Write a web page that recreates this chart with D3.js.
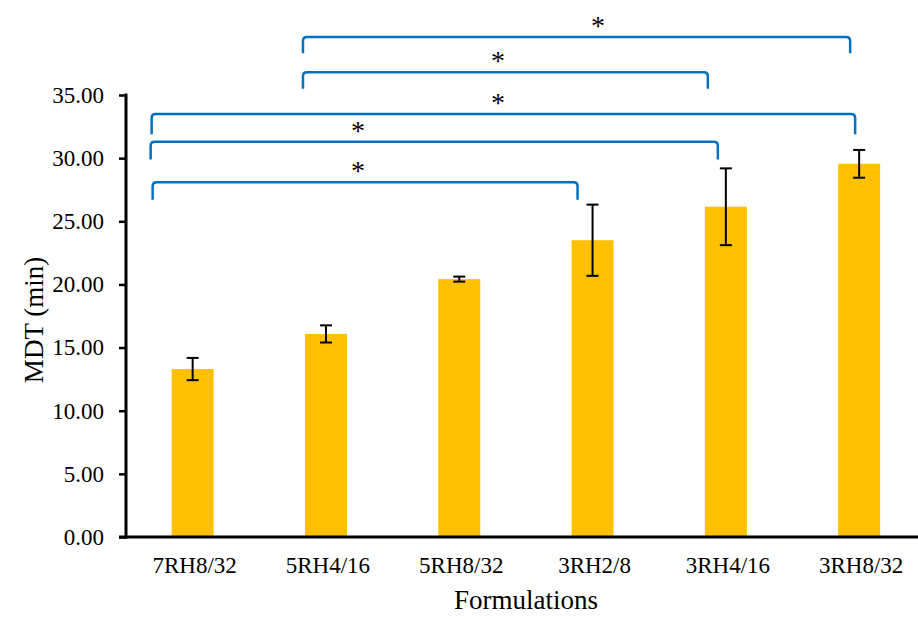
<!DOCTYPE html>
<html>
<head>
<meta charset="utf-8">
<script src="https://cdn.jsdelivr.net/npm/d3@7"></script>
<style>
  html, body { margin: 0; padding: 0; background: #fff; }
  svg { display: block; }
</style>
</head>
<body>
<svg id="chart" width="918" height="619"></svg>
<script>
// Mean dissolution time per formulation, with standard deviation
const categories = ["7RH8/32", "5RH4/16", "5RH8/32", "3RH2/8", "3RH4/16", "3RH8/32"];
const mdtMean = [13.30, 16.08, 20.42, 23.50, 26.15, 29.55];
const mdtSd   = [0.88, 0.68, 0.20, 2.82, 3.04, 1.10];
const yTicks  = [0, 5, 10, 15, 20, 25, 30, 35];

// Significance brackets: compared pair (category indices), bracket height and leg end (min)
const sigFrom  = [0, 0, 0, 1, 1];
const sigTo    = [3, 4, 5, 4, 5];
const sigLevel = [28.1, 31.3, 33.5, 36.8, 39.6];
const sigLegTo = [26.7, 29.9, 31.9, 35.5, 38.3];
const sigLabel = ["*", "*", "*", "*", "*"];

// Drawing layout
const FONT = "'Liberation Serif', 'Times New Roman', Times, serif";
const layout = {
  left: 126, bottom: 537, top: 95, bandStep: 133.3,
  barWidth: 42, capWidth: 12,
  legOffsetL: [-40, -42, -41, -23, -23],
  legOffsetR: [-15, -8, -4, -18, -9],
  starAt: [1.24, 1.24, 2.29, 2.29, 3.04]
};

const svg = d3.select("#chart");

const x = d3.scaleBand()
  .domain(categories)
  .range([layout.left, layout.left + layout.bandStep * categories.length])
  .paddingInner(0).paddingOuter(0);

const y = d3.scaleLinear().domain([0, 35]).range([layout.bottom, layout.top]);

const cx = c => x(c) + x.bandwidth() / 2;
const cxi = i => layout.left + layout.bandStep * (i + 0.5);

// Bars
svg.append("g").selectAll("rect")
  .data(categories)
  .join("rect")
  .attr("x", c => cx(c) - layout.barWidth / 2)
  .attr("width", layout.barWidth)
  .attr("y", (c, i) => y(mdtMean[i]))
  .attr("height", (c, i) => y(0) - y(mdtMean[i]))
  .attr("fill", "#FFC000");

// Error bars
const eg = svg.append("g").attr("stroke", "#000").attr("stroke-width", 2);
categories.forEach((c, i) => {
  const hi = y(mdtMean[i] + mdtSd[i]);
  const lo = y(mdtMean[i] - mdtSd[i]);
  const xc = cx(c);
  eg.append("line").attr("x1", xc).attr("x2", xc).attr("y1", hi).attr("y2", lo);
  eg.append("line").attr("x1", xc - layout.capWidth / 2).attr("x2", xc + layout.capWidth / 2).attr("y1", hi).attr("y2", hi);
  eg.append("line").attr("x1", xc - layout.capWidth / 2).attr("x2", xc + layout.capWidth / 2).attr("y1", lo).attr("y2", lo);
});

// Y axis
const yAxis = d3.axisLeft(y)
  .tickValues(yTicks)
  .tickFormat(d3.format(".2f"))
  .tickSize(7)
  .tickPadding(15);
const ya = svg.append("g").attr("transform", `translate(${layout.left},0)`).call(yAxis)
  .attr("font-family", FONT).attr("font-size", 23);
ya.select(".domain").remove();
ya.selectAll(".tick line").attr("stroke", "#000").attr("stroke-width", 2.5);
ya.selectAll(".tick text").attr("fill", "#000");
svg.append("line")
  .attr("x1", layout.left).attr("x2", layout.left)
  .attr("y1", y(35) - 1.5).attr("y2", y(0) + 1.5)
  .attr("stroke", "#000").attr("stroke-width", 3);

// X axis
const xAxis = d3.axisBottom(x).tickSize(0).tickPadding(20);
const xa = svg.append("g").attr("transform", `translate(0,${layout.bottom})`).call(xAxis)
  .attr("font-family", FONT).attr("font-size", 23);
xa.select(".domain").remove();
xa.selectAll(".tick text").attr("fill", "#000").attr("dx", 2);
svg.append("line")
  .attr("x1", layout.left - 7).attr("x2", 918)
  .attr("y1", y(0)).attr("y2", y(0))
  .attr("stroke", "#000").attr("stroke-width", 3);

// Axis titles
svg.append("text")
  .attr("x", 526).attr("y", 609)
  .attr("text-anchor", "middle").attr("font-family", FONT).attr("font-size", 27).attr("fill", "#000")
  .text("Formulations");
svg.append("text")
  .attr("transform", "translate(43,320) rotate(-90)")
  .attr("text-anchor", "middle").attr("font-family", FONT).attr("font-size", 27).attr("fill", "#000")
  .text("MDT (min)");

// Significance brackets with rounded corners
const r = 4;
const bg = svg.append("g").attr("fill", "none").attr("stroke", "#0070C0").attr("stroke-width", 2.5);
sigFrom.forEach((f, k) => {
  const x1 = cxi(f) + layout.legOffsetL[k];
  const x2 = cxi(sigTo[k]) + layout.legOffsetR[k];
  const yl = y(sigLevel[k]);
  const yb = y(sigLegTo[k]);
  const p = d3.path();
  p.moveTo(x1, yb);
  p.lineTo(x1, yl + r);
  p.quadraticCurveTo(x1, yl, x1 + r, yl);
  p.lineTo(x2 - r, yl);
  p.quadraticCurveTo(x2, yl, x2, yl + r);
  p.lineTo(x2, yb);
  bg.append("path").attr("d", p.toString());
  svg.append("text")
    .attr("x", cxi(layout.starAt[k])).attr("y", yl - 2)
    .attr("text-anchor", "middle").attr("font-family", FONT).attr("font-size", 28).attr("fill", "#000")
    .text(sigLabel[k]);
});
</script>
</body>
</html>
